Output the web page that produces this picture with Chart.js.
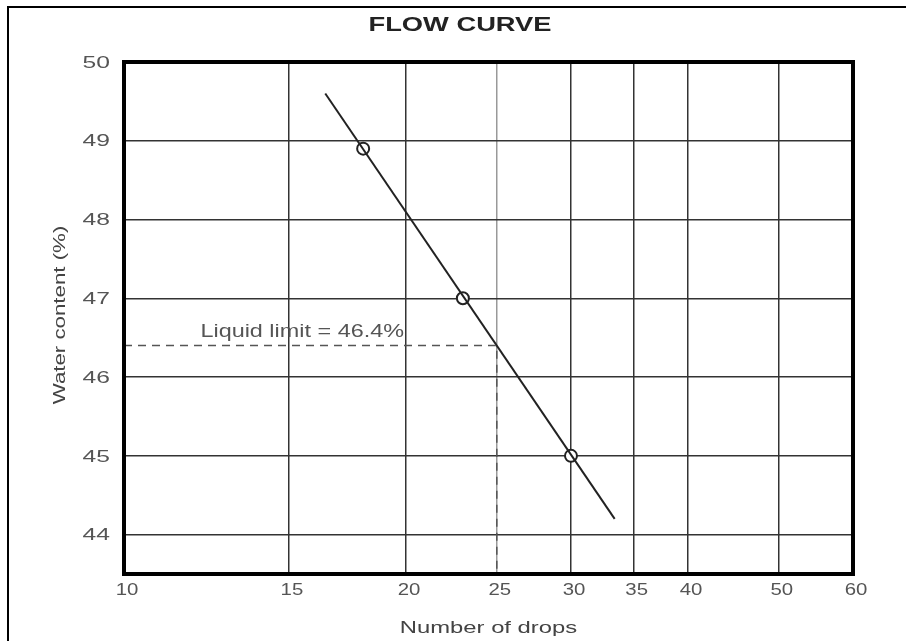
<!DOCTYPE html>
<html>
<head>
<meta charset="utf-8">
<script src="https://cdn.jsdelivr.net/npm/chart.js@4"></script>
<style>
  body { margin: 0; background: #fff; }
  canvas { display: block; }
</style>
</head>
<body>
<canvas id="flowChart" width="906" height="641"></canvas>
<script>
// Flow curve data
var xTicks = [10, 15, 20, 25, 30, 35, 40, 50, 60];
var yTicks = [44, 45, 46, 47, 48, 49, 50];
var drops = [18, 23, 30];
var waterContent = [48.9, 47.0, 45.0];
var fitDrops = [16.4, 33.4];
var fitWater = [49.6, 44.2];
var liquidLimit = 46.4;
var limitDrops = 25;

var pts = drops.map(function (d, i) { return { x: d, y: waterContent[i] }; });
var fit = fitDrops.map(function (d, i) { return { x: d, y: fitWater[i] }; });
var guide = [
    { x: xTicks[0], y: liquidLimit },
    { x: limitDrops, y: liquidLimit },
    { x: limitDrops, y: 43.5 }
];

var FONT = '"Liberation Sans", Arial, sans-serif';

// the scanned original has wide, stretched lettering
function wideText(c, text, x, y, sx, align, rot) {
    c.save();
    c.translate(x, y);
    if (rot) c.rotate(rot);
    c.scale(sx, 1);
    c.textAlign = align;
    c.fillText(text, 0, 0);
    c.restore();
}

var framePlugin = {
    id: 'frame',
    afterDraw: function (chart) {
        var c = chart.ctx, a = chart.chartArea;
        var xs = chart.scales.x, ys = chart.scales.y;
        c.save();
        c.strokeStyle = '#000';
        c.lineWidth = 4;
        c.strokeRect(a.left, a.top, a.right - a.left, a.bottom - a.top);
        c.lineWidth = 2;
        c.beginPath();
        c.moveTo(8, 641);
        c.lineTo(8, 7);
        c.lineTo(906, 7);
        c.stroke();

        c.textBaseline = 'middle';

        // tick labels
        c.fillStyle = '#555';
        c.font = '17px ' + FONT;
        xs.ticks.forEach(function (t) {
            wideText(c, String(t.value), xs.getPixelForValue(t.value) + 3, a.bottom + 16, 1.2, 'center');
        });
        ys.ticks.forEach(function (t) {
            wideText(c, String(t.value), a.left - 14, ys.getPixelForValue(t.value) + 1, 1.45, 'right');
        });

        c.fillStyle = '#222';
        c.font = 'bold 21px ' + FONT;
        wideText(c, 'FLOW CURVE', 460, 25, 1.3, 'center');

        c.fillStyle = '#444';
        c.font = '17px ' + FONT;
        wideText(c, 'Number of drops', (a.left + a.right) / 2, 628, 1.4, 'center');
        wideText(c, 'Water content (%)', 60, 315, 1.31, 'center', -Math.PI / 2);

        c.font = '18px ' + FONT;
        c.fillStyle = '#555';
        wideText(c, 'Liquid limit = 46.4%', xs.getPixelForValue(19.9), ys.getPixelForValue(46.57), 1.3, 'right');
        c.restore();
    }
};

var ctx = document.getElementById('flowChart').getContext('2d');
var flowChart = new Chart(ctx, {
    type: 'scatter',
    data: {
        datasets: [{
            data: guide,
            showLine: true,
            borderColor: '#555',
            borderWidth: 1.5,
            borderDash: [8, 6],
            pointRadius: 0
        }, {
            data: fit,
            showLine: true,
            borderColor: '#222',
            borderWidth: 2,
            pointRadius: 0
        }, {
            data: pts,
            pointRadius: 6,
            pointBackgroundColor: '#fff',
            pointBorderColor: '#222',
            pointBorderWidth: 2
        }]
    },
    options: {
        responsive: false,
        animation: false,
        layout: { padding: { left: 0, right: 53, top: 62, bottom: 0 } },
        plugins: {
            legend: { display: false },
            tooltip: { enabled: false }
        },
        scales: {
            x: {
                type: 'logarithmic',
                min: 10,
                max: 60,
                afterBuildTicks: function (s) { s.ticks = xTicks.map(function (v) { return { value: v }; }); },
                afterFit: function (s) { s.height = 67; },
                ticks: { display: false },
                grid: {
                    drawTicks: false,
                    lineWidth: 1.5,
                    color: function (c) { return c.tick && c.tick.value === 25 ? '#999' : '#333'; }
                },
                border: { display: false }
            },
            y: {
                min: 43.5,
                max: 50,
                afterBuildTicks: function (s) { s.ticks = yTicks.map(function (v) { return { value: v }; }); },
                afterFit: function (s) { s.width = 124; },
                ticks: { display: false },
                grid: { drawTicks: false, lineWidth: 1.5, color: '#333' },
                border: { display: false }
            }
        }
    },
    plugins: [framePlugin]
});
</script>
</body>
</html>
